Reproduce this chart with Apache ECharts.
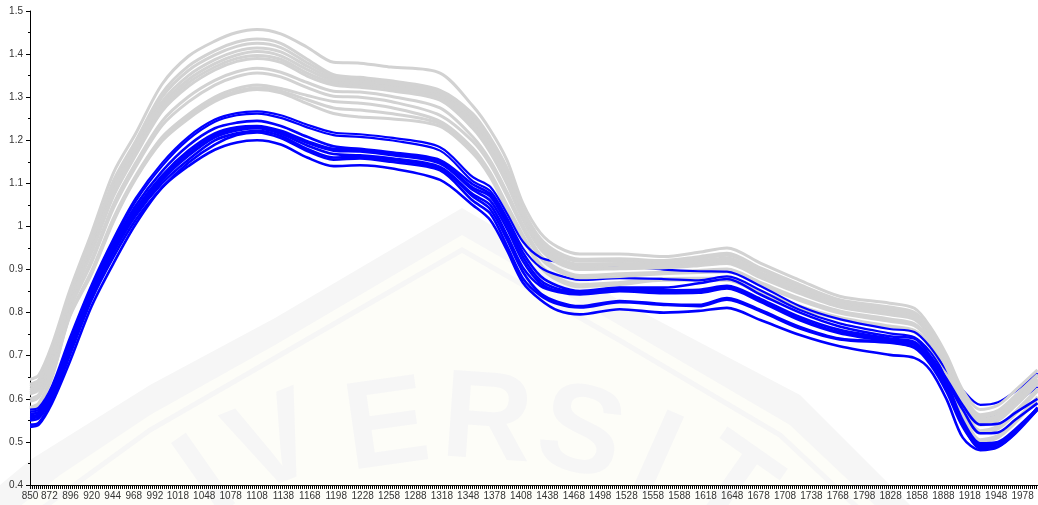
<!DOCTYPE html>
<html><head><meta charset="utf-8">
<style>html,body{margin:0;padding:0;background:#fff}#c{width:1038px;height:505px}</style>
<script src="https://cdn.jsdelivr.net/npm/echarts@6/dist/echarts.min.js"></script>
</head><body><div id="c"></div>
<script>
const wavelengths=[850,860,875,895,920,945,970,1000,1030,1060,1085,1108,1135,1165,1195,1225,1260,1316,1353,1373,1392,1410,1430,1450,1475,1520,1570,1610,1642,1680,1725,1770,1827,1855,1873,1892,1910,1930,1950,1970,1995];
const xTickLabels=[850,872,896,920,944,968,992,1018,1048,1078,1108,1138,1168,1198,1228,1258,1288,1318,1348,1378,1408,1438,1468,1498,1528,1558,1588,1618,1648,1678,1708,1738,1768,1798,1828,1858,1888,1918,1948,1978];

const grey1=[.645,.655,.725,.85,.985,1.125,1.215,1.33,1.395,1.43,1.45,1.457,1.447,1.416,1.381,1.379,1.37,1.356,1.28,1.224,1.154,1.054,.985,.952,.936,.936,.93,.94,.95,.915,.875,.838,.822,.81,.767,.70,.62,.575,.585,.62,.667];
const grey2=[.634,.644,.713,.84,.97,1.107,1.198,1.309,1.372,1.408,1.428,1.435,1.425,1.388,1.352,1.346,1.338,1.316,1.262,1.206,1.136,1.041,.972,.94,.924,.925,.921,.93,.938,.904,.865,.83,.813,.801,.759,.69,.61,.563,.573,.608,.656];
const grey3=[.629,.639,.708,.836,.963,1.099,1.191,1.30,1.362,1.398,1.418,1.425,1.415,1.38,1.348,1.342,1.334,1.312,1.255,1.199,1.128,1.036,.967,.934,.919,.92,.917,.925,.933,.899,.86,.826,.809,.797,.756,.686,.606,.558,.568,.603,.652];
const grey4=[.623,.633,.702,.831,.956,1.09,1.182,1.289,1.35,1.387,1.407,1.414,1.405,1.372,1.343,1.338,1.33,1.308,1.247,1.19,1.119,1.03,.961,.928,.912,.914,.913,.92,.927,.893,.855,.822,.804,.793,.752,.681,.601,.552,.562,.597,.646];
const grey5=[.619,.629,.697,.828,.95,1.083,1.176,1.281,1.341,1.378,1.398,1.406,1.396,1.364,1.338,1.333,1.325,1.303,1.24,1.184,1.112,1.025,.956,.924,.908,.91,.91,.916,.922,.889,.851,.818,.801,.79,.75,.678,.598,.547,.557,.592,.642];
const grey6=[.615,.625,.693,.824,.944,1.076,1.17,1.273,1.333,1.37,1.39,1.397,1.388,1.356,1.333,1.328,1.32,1.298,1.233,1.177,1.105,1.02,.951,.919,.903,.905,.906,.912,.918,.885,.847,.815,.797,.786,.747,.674,.594,.543,.553,.588,.638];
const grey7=[.611,.621,.689,.821,.939,1.071,1.165,1.267,1.325,1.363,1.383,1.39,1.381,1.349,1.328,1.323,1.315,1.293,1.228,1.172,1.099,1.016,.947,.915,.90,.902,.904,.909,.914,.881,.844,.813,.795,.784,.744,.671,.591,.539,.549,.584,.635];
const grey8=[.60,.61,.676,.811,.923,1.052,1.147,1.244,1.301,1.339,1.359,1.367,1.358,1.334,1.314,1.312,1.302,1.275,1.208,1.153,1.08,1.003,.934,.902,.886,.89,.894,.898,.901,.87,.833,.804,.785,.774,.736,.661,.581,.526,.536,.571,.623];
const grey9=[.594,.604,.67,.806,.916,1.043,1.138,1.234,1.289,1.328,1.348,1.356,1.347,1.322,1.302,1.30,1.29,1.258,1.198,1.144,1.071,.996,.927,.896,.881,.884,.89,.893,.895,.864,.828,.799,.78,.77,.733,.656,.576,.52,.53,.565,.618];
const grey10=[.58,.59,.655,.794,.897,1.02,1.117,1.207,1.26,1.30,1.32,1.328,1.32,1.304,1.29,1.286,1.276,1.244,1.182,1.125,1.05,.981,.912,.88,.865,.87,.879,.88,.88,.85,.815,.789,.769,.759,.723,.644,.564,.505,.515,.55,.605];
const grey11=[.577,.587,.652,.792,.893,1.015,1.113,1.202,1.254,1.294,1.314,1.322,1.314,1.294,1.275,1.27,1.262,1.238,1.175,1.119,1.043,.977,.908,.877,.862,.867,.877,.877,.877,.847,.812,.787,.767,.757,.721,.642,.562,.502,.512,.547,.602];
const grey12=[.575,.585,.65,.79,.89,1.012,1.11,1.198,1.25,1.29,1.31,1.318,1.31,1.285,1.262,1.254,1.25,1.232,1.17,1.115,1.04,.975,.906,.875,.86,.865,.875,.875,.875,.845,.81,.785,.765,.755,.72,.64,.56,.50,.51,.545,.60];

const blue1=[.575,.58,.63,.74,.865,.972,1.065,1.147,1.208,1.248,1.263,1.267,1.258,1.236,1.218,1.214,1.206,1.184,1.115,1.092,1.03,.965,.928,.918,.91,.908,.900,.896,.895,.862,.815,.785,.762,.755,.72,.665,.62,.586,.592,.618,.66];
const blue2=[.57,.575,.625,.733,.86,.965,1.058,1.14,1.202,1.243,1.258,1.262,1.252,1.23,1.212,1.208,1.2,1.176,1.105,1.082,1.02,.95,.905,.887,.876,.88,.878,.875,.884,.852,.806,.775,.752,.743,.709,.65,.595,.558,.562,.59,.628];
const blue3=[.565,.57,.62,.728,.855,.958,1.048,1.128,1.188,1.228,1.241,1.245,1.233,1.208,1.186,1.18,1.172,1.154,1.098,1.075,1.012,.94,.885,.862,.85,.858,.858,.868,.878,.842,.80,.768,.745,.74,.70,.645,.585,.54,.542,.568,.60];
const blue4=[.56,.565,.615,.723,.85,.952,1.04,1.118,1.176,1.216,1.23,1.233,1.222,1.198,1.18,1.178,1.17,1.15,1.09,1.07,1.005,.93,.875,.855,.848,.857,.852,.853,.862,.832,.79,.76,.74,.732,.695,.64,.575,.52,.522,.552,.59];
const blue5=[.558,.563,.612,.72,.846,.948,1.035,1.112,1.17,1.212,1.227,1.231,1.219,1.194,1.176,1.174,1.166,1.146,1.085,1.06,.995,.92,.868,.85,.845,.853,.848,.85,.858,.828,.785,.755,.736,.728,.69,.635,.55,.497,.50,.53,.578];
const blue6=[.555,.56,.608,.716,.842,.944,1.03,1.107,1.164,1.207,1.223,1.228,1.215,1.188,1.168,1.165,1.158,1.138,1.075,1.05,.98,.905,.862,.848,.842,.85,.845,.846,.856,.825,.782,.752,.733,.725,.685,.628,.545,.492,.497,.527,.577];
const blue7=[.55,.555,.604,.712,.838,.94,1.025,1.10,1.155,1.2,1.216,1.222,1.21,1.18,1.16,1.162,1.155,1.135,1.07,1.04,.97,.895,.845,.825,.815,.827,.82,.818,.834,.806,.767,.74,.732,.72,.685,.62,.54,.486,.49,.522,.58];
const blue8=[.54,.545,.596,.70,.83,.93,1.015,1.09,1.148,1.19,1.212,1.218,1.205,1.175,1.155,1.158,1.15,1.13,1.06,1.03,.955,.88,.84,.82,.812,.824,.818,.815,.83,.803,.763,.738,.73,.718,.68,.615,.535,.49,.495,.525,.575];
const blue9=[.535,.54,.59,.685,.815,.915,1.005,1.09,1.14,1.178,1.195,1.20,1.19,1.16,1.14,1.142,1.135,1.108,1.05,1.015,.945,.87,.83,.805,.796,.808,.80,.804,.811,.783,.748,.722,.702,.695,.667,.597,.51,.481,.488,.52,.575];

const GREY='#d2d2d2', BLUE='#0000ff';
function line(values,color,width){
  return {type:'line',data:wavelengths.map((w,i)=>[w,values[i]]),smooth:0.3,symbol:'none',silent:true,z:2,
    lineStyle:{color:color,width:width},emphasis:{disabled:true}};
}
const g=w=>line(w,GREY,3), b=w=>line(w,BLUE,2.6);
const series=[g(grey12),g(grey11),g(grey10),line(blue2,BLUE,2.2),g(grey9),g(grey8),line(blue1,BLUE,2.2),
  g(grey7),g(grey6),g(grey5),g(grey4),g(grey3),g(grey2),g(grey1),
  b(blue3),b(blue4),b(blue5),b(blue6),b(blue7),b(blue8),b(blue9)];
const tickValues=[];for(let t=850;t<1996;t+=2.2727)tickValues.push(t);
const mark='#f6f6f6';
const letter=(s,x,y,r)=>({type:'text',x:x,y:y,rotation:r*Math.PI/180,z:-5,silent:true,
  style:{text:s,fill:mark,font:'bold 125px "Liberation Sans"',align:'center',verticalAlign:'middle'}});
const chart=echarts.init(document.getElementById('c'),null,{renderer:'canvas'});
chart.setOption({
  animation:false,
  grid:{left:30,right:0,top:11,bottom:20,containLabel:false},
  xAxis:{type:'value',min:850,max:1995.5,splitLine:{show:false},
    axisLine:{onZero:false,lineStyle:{color:'#000',width:1}},
    axisTick:{customValues:tickValues,length:4,lineStyle:{color:'#000',width:1}},
    axisLabel:{customValues:xTickLabels,margin:6,color:'#333',fontSize:10,fontFamily:'Liberation Sans',hideOverlap:false,formatter:v=>String(v)}},
  yAxis:{type:'value',min:0.4,max:1.5,interval:0.1,splitLine:{show:false},
    axisLine:{show:true,lineStyle:{color:'#000',width:1}},
    axisTick:{show:true,length:4,lineStyle:{color:'#000',width:1}},
    minorTick:{show:true,splitNumber:2,length:2,lineStyle:{color:'#000',width:1}},
    axisLabel:{margin:7,color:'#333',fontSize:10,fontFamily:'Liberation Sans'}},
  graphic:{elements:[
    {type:'polygon',z:-10,silent:true,shape:{points:[[462,208],[275,318],[150,385],[30,460],[-30,510],[915,510],[800,395],[619,300]]},style:{fill:mark}},
    {type:'polygon',z:-9,silent:true,shape:{points:[[462,235],[275,345],[150,415],[60,475],[15,510],[880,510],[790,425],[619,325]]},style:{fill:'#fdfdf8'}},
    {type:'polyline',z:-8,silent:true,shape:{points:[[40,510],[150,430],[275,358],[462,250],[619,340],[780,435],[860,510]]},style:{stroke:mark,fill:null,lineWidth:5}},
    letter('I',208,480,35),letter('V',275,448,22),letter('E',387,430,8),letter('R',487,424,-4),letter('S',580,437,-14),letter('I',655,460,-24),letter('T',728,490,-35)
  ]},
  series:series
});
</script></body></html>
